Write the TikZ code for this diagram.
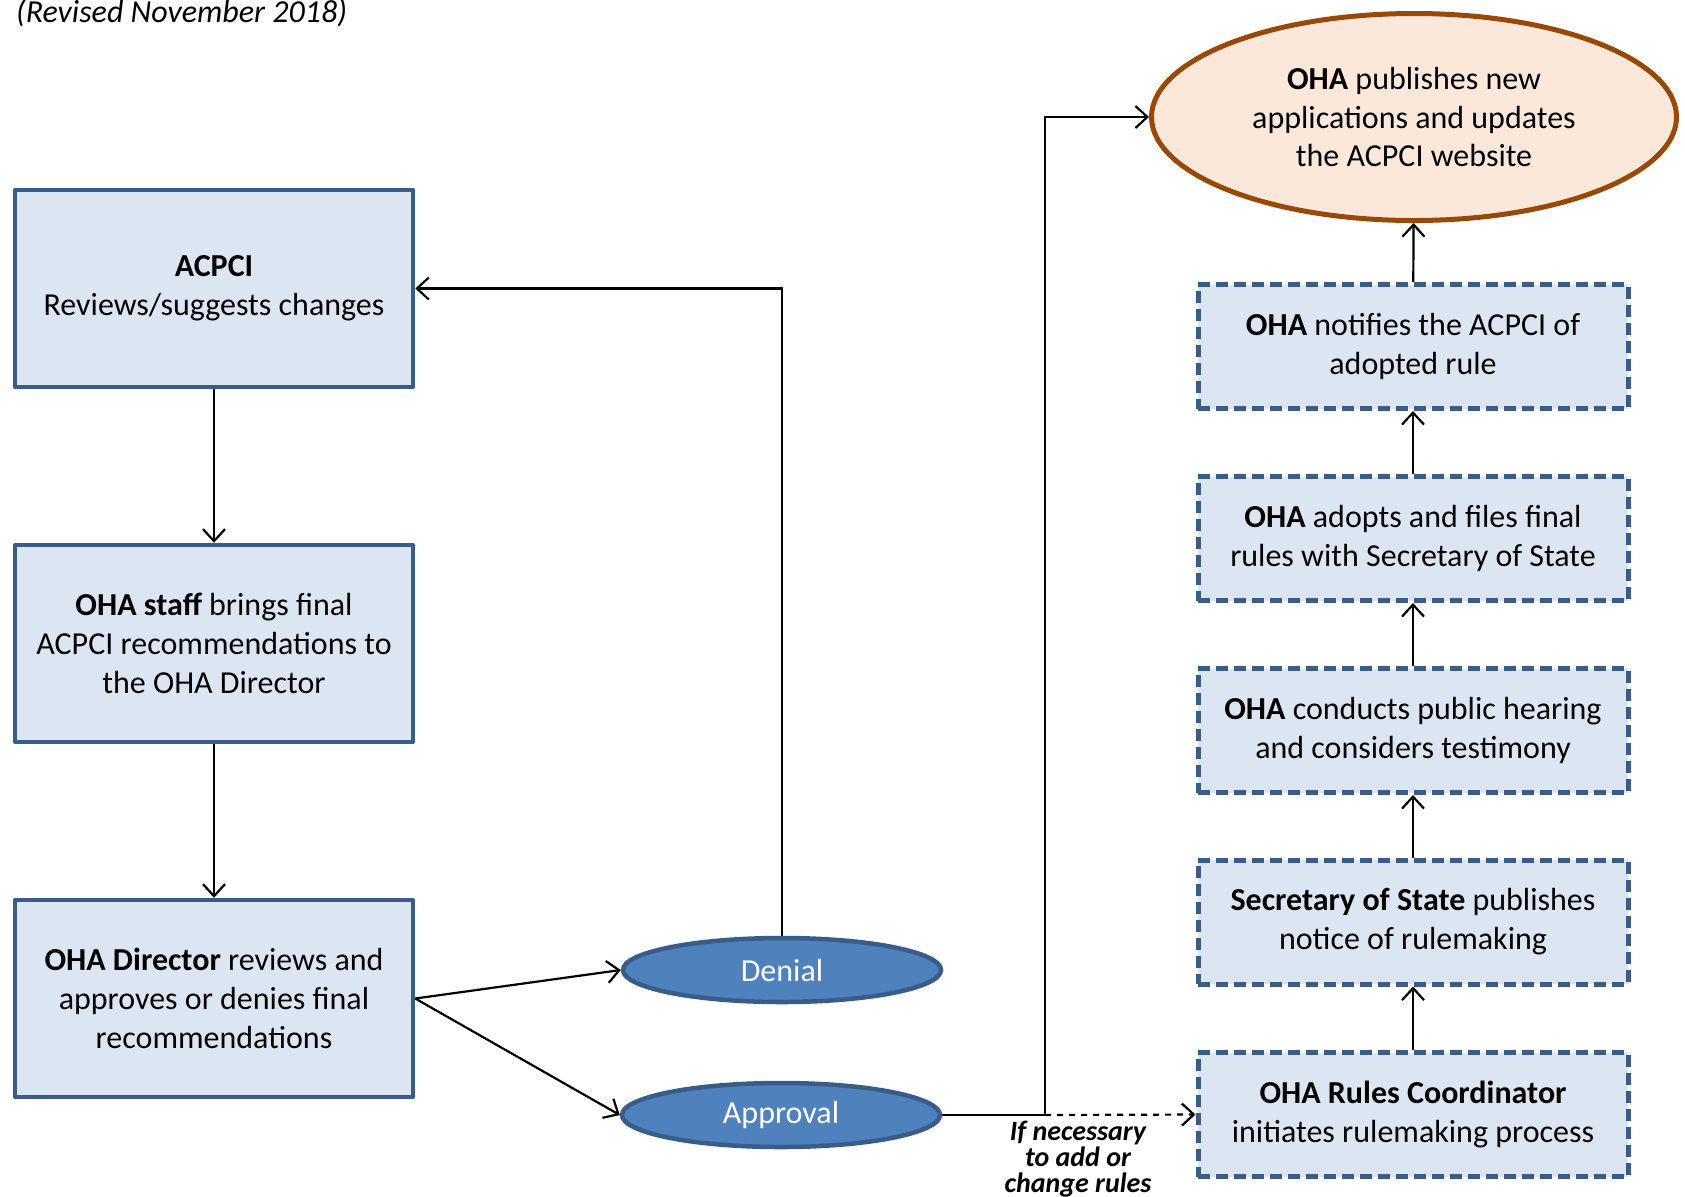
\documentclass[tikz,border=0pt]{standalone}
\usepackage{fontspec}
\setmainfont{Carlito}
\usetikzlibrary{shapes.geometric,arrows.meta}
\definecolor{boxfill}{HTML}{DCE6F2}
\definecolor{boxline}{HTML}{385D8A}
\definecolor{ovalfill}{HTML}{4F81BD}
\definecolor{pubfill}{HTML}{FCE8DA}
\definecolor{publine}{HTML}{984807}

\begin{document}
\begin{tikzpicture}[x=0.5pt,y=-0.5pt,
  >={Straight Barb[length=6pt,width=11pt]},
  txt/.style={align=center,font=\fontsize{16}{19.4}\selectfont},
  solidbox/.style={txt,draw=boxline,fill=boxfill,line width=2.25pt,line join=round,
    minimum width=199pt,minimum height=98.5pt,inner sep=0pt},
  dashbox/.style={txt,draw=boxline,fill=boxfill,line width=2.5pt,line join=round,
    dash pattern=on 6pt off 3pt,minimum width=215pt,minimum height=62pt,inner sep=0pt},
  choice/.style={ellipse,txt,draw=boxline,fill=ovalfill,line width=2.25pt,text=white,
    minimum width=159pt,minimum height=32pt,inner sep=0pt},
  link/.style={line width=1.1pt}]
\useasboundingbox (0,0) rectangle (1685,1196);

\node[anchor=base west,font=\fontsize{16}{18}\selectfont\itshape] (title) at (9,22) {(Revised November 2018)};

% left column
\node[solidbox] (acpci) at (214,288.5) {\textbf{ACPCI}\\Reviews/suggests changes};
\node[solidbox] (staff) at (214,643.5) {\textbf{OHA staff} brings final\\ACPCI recommendations to\\the OHA Director};
\node[solidbox] (director) at (214,998.5) {\textbf{OHA Director} reviews and\\approves or denies final\\recommendations};

% decisions
\node[choice] (denial) at (782,970) {Denial};
\node[choice] (approval) at (781,1115) {Approval};

% right column
\node[ellipse,txt,draw=publine,fill=pubfill,line width=2.5pt,minimum width=262.5pt,
  minimum height=103.5pt,inner sep=0pt] (publish) at (1414,117)
  {\textbf{OHA} publishes new\\applications and updates\\the ACPCI website};
\node[dashbox] (notify) at (1413,346.5) {\textbf{OHA} notifies the ACPCI of\\adopted rule};
\node[dashbox] (adopt) at (1413,538.5) {\textbf{OHA} adopts and files final\\rules with Secretary of State};
\node[dashbox] (hearing) at (1413,730.5) {\textbf{OHA} conducts public hearing\\and considers testimony};
\node[dashbox] (sos) at (1413,922) {\textbf{Secretary of State} publishes\\notice of rulemaking};
\node[dashbox] (coord) at (1413,1114.5) {\textbf{OHA Rules Coordinator}\\initiates rulemaking process};

\node[anchor=north,inner sep=0pt,align=center,font=\fontsize{14}{13}\selectfont\bfseries\itshape]
  (note) at (1078,1121) {If necessary\\to add or\\change rules};

\coordinate (turn) at (1045,1115);

% connectors
\draw[link,->] (acpci) -- (staff);
\draw[link,->] (staff) -- (director);
\draw[link,->] (director.east) -- (denial.west);
\draw[link,->] (director.east) -- (approval.west);
\draw[link,->] (denial.north) |- (acpci.east);
\draw[link,->] (approval.east) -- (turn) |- (publish.west);
\draw[link,->,dashed] (turn) -- (coord.west);
\draw[link,->] (coord) -- (sos);
\draw[link,->] (sos) -- (hearing);
\draw[link,->] (hearing) -- (adopt);
\draw[link,->] (adopt) -- (notify);
\draw[link,->] (notify) -- (publish);
\end{tikzpicture}
\end{document}
